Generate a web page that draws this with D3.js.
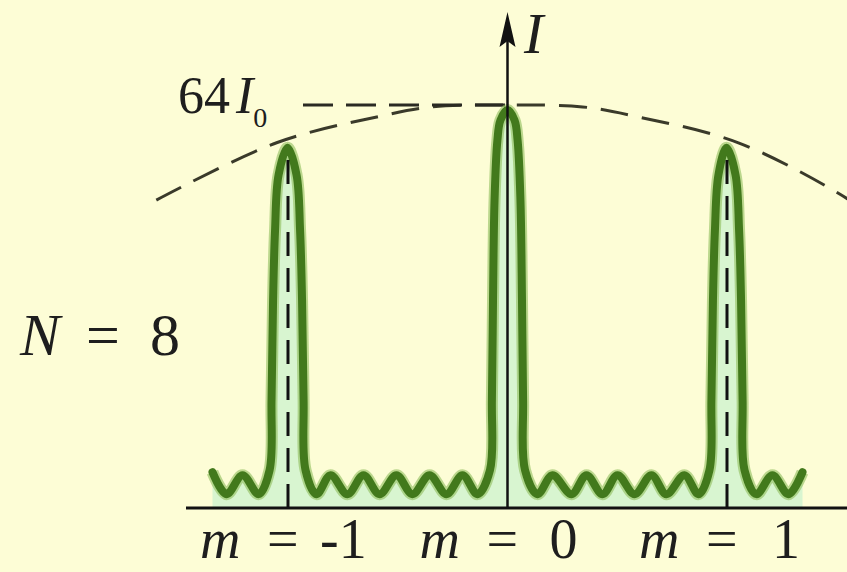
<!DOCTYPE html>
<html>
<head>
<meta charset="utf-8">
<script src="https://cdn.jsdelivr.net/npm/d3@7"></script>
<style>
  html, body { margin: 0; padding: 0; background: #fdfdd6; }
  svg { display: block; }
  text { font-family: "Liberation Serif", "DejaVu Serif", serif; fill: #1e1e1e; }
</style>
</head>
<body>
<svg id="chart" width="847" height="572"></svg>
<script>
// ---- Data (order m along x, intensity in units of I0 along y) ----
const orders = [-1, 0, 1];
const orderLabels = ["-1", "0", "1"];
const slitCount = "8";
const peakLabel = "64";
const peakValue = 64;
const sidePeakValue = 57.2;

// Intensity curve (m, I/I0)
const curveM = [
  -1.344, -1.280, -1.207, -1.134,
  -1.084, -1.075, -1.068, -1.059, -1.043, -1.002, -0.961, -0.945, -0.936, -0.929, -0.920,
  -0.870, -0.806, -0.729, -0.656, -0.583, -0.506, -0.433, -0.355, -0.278, -0.205, -0.137,
  -0.080, -0.071, -0.066, -0.059, -0.046, -0.032, 0.000, 0.032, 0.046, 0.059, 0.066, 0.071, 0.080,
  0.137, 0.205, 0.292, 0.360, 0.433, 0.501, 0.579, 0.656, 0.724, 0.806, 0.870,
  0.920, 0.929, 0.936, 0.945, 0.961, 0.998, 1.039, 1.055, 1.064, 1.071, 1.080,
  1.134, 1.207, 1.280, 1.344
];
const curveI = [
  5.7, 2.2, 5.2, 2.2,
  6.0, 17.2, 33.0, 44.1, 52.9, 57.2, 52.9, 44.1, 33.0, 17.2, 6.0,
  2.2, 5.2, 2.2, 5.2, 2.2, 5.2, 2.2, 5.2, 2.2, 5.2, 2.2,
  6.0, 17.2, 33.0, 48.9, 58.4, 61.6, 63.2, 61.6, 58.4, 48.9, 33.0, 17.2, 6.0,
  2.2, 5.2, 2.2, 5.2, 2.2, 5.2, 2.2, 5.2, 2.2, 5.2, 2.2,
  6.0, 17.2, 33.0, 44.1, 52.9, 57.2, 52.9, 44.1, 33.0, 17.2, 6.0,
  2.2, 5.2, 2.2, 5.7
];

// Single-slit envelope (dashed)
const envM = [-1.60, -1.052, -0.583, -0.342, 0, 0.342, 0.583, 1.052, 1.544, 1.65];
const envI = [48.9, 58.0, 62.2, 63.7, 64.0, 63.7, 62.2, 58.0, 49.2, 46.5];

// ---- Scales ----
const x = d3.scaleLinear().domain([-1, 1]).range([288, 727]);
const y = d3.scaleLinear().domain([0, 64]).range([508, 105]);

const svg = d3.select("#chart");
svg.append("rect").attr("width", 847).attr("height", 572).attr("fill", "#fdfdd6");

const pts = curveM.map((m, i) => [m, curveI[i]]);
const envPts = envM.map((m, i) => [m, envI[i]]);

// area under the curve
const area = d3.area()
  .x(d => x(d[0])).y0(y(0)).y1(d => y(d[1]))
  .curve(d3.curveCatmullRom.alpha(0.5));
svg.append("path").datum(pts).attr("d", area)
  .attr("fill", "#d8f5d0").attr("stroke", "none");

// envelope
const line = d3.line().x(d => x(d[0])).y(d => y(d[1]))
  .curve(d3.curveCatmullRom.alpha(0.5));
svg.append("path").datum(envPts).attr("d", line)
  .attr("fill", "none").attr("stroke", "#3a3a2a")
  .attr("stroke-width", 3).attr("stroke-dasharray", "28,14");

// 64 I0 dashed horizontal
svg.append("line")
  .attr("x1", 303).attr("x2", x(0))
  .attr("y1", y(peakValue)).attr("y2", y(peakValue))
  .attr("stroke", "#2a2a22").attr("stroke-width", 3)
  .attr("stroke-dasharray", "30,13");

// green curve (halo + core)
svg.append("path").datum(pts).attr("d", line)
  .attr("fill", "none").attr("stroke", "#8fbe5c").attr("stroke-opacity", 0.6)
  .attr("stroke-width", 12).attr("stroke-linejoin", "round");
svg.append("path").datum(pts).attr("d", line)
  .attr("fill", "none").attr("stroke", "#42791c")
  .attr("stroke-width", 8).attr("stroke-linejoin", "round").attr("stroke-linecap", "round");

// vertical dashed lines at side orders
[-1, 1].forEach(m => {
  svg.append("line")
    .attr("x1", x(m)).attr("x2", x(m))
    .attr("y1", y(0)).attr("y2", y(sidePeakValue) + 6)
    .attr("stroke", "#111").attr("stroke-width", 3)
    .attr("stroke-dasharray", "24,12");
});

// baseline axis
svg.append("line")
  .attr("x1", 186).attr("x2", 847)
  .attr("y1", y(0)).attr("y2", y(0))
  .attr("stroke", "#111").attr("stroke-width", 3);

// vertical axis with arrow
svg.append("line")
  .attr("x1", x(0)).attr("x2", x(0))
  .attr("y1", y(0)).attr("y2", 40)
  .attr("stroke", "#111").attr("stroke-width", 2.5);
svg.append("path")
  .attr("d", `M${x(0)},12 L${x(0) - 8},47 L${x(0)},41 L${x(0) + 8},47 Z`)
  .attr("fill", "#111");

// axis label I
svg.append("text").attr("x", 524).attr("y", 53)
  .attr("font-size", 58).attr("font-style", "italic").text("I");

// 64 I0 label
const pl = svg.append("text").attr("x", 178).attr("y", 113).attr("font-size", 52);
pl.append("tspan").text(peakLabel);
pl.append("tspan").attr("font-style", "italic").attr("dx", 6).text("I");
pl.append("tspan").attr("font-size", 28).attr("dy", 14).text("0");

// N = 8
const nl = svg.append("text").attr("y", 355).attr("font-size", 60);
nl.append("tspan").attr("x", 20).attr("font-style", "italic").text("N");
nl.append("tspan").attr("x", 86).text("=");
nl.append("tspan").attr("x", 150).text(slitCount);

// order labels
const valueOffset = [32, 42, 45];
orders.forEach((m, i) => {
  const t = svg.append("text").attr("y", 558).attr("font-size", 56);
  t.append("tspan").attr("x", x(m) - 88).attr("font-style", "italic").text("m");
  t.append("tspan").attr("x", x(m) - 21).text("=");
  t.append("tspan").attr("x", x(m) + valueOffset[i]).text(orderLabels[i]);
});
</script>
</body>
</html>
